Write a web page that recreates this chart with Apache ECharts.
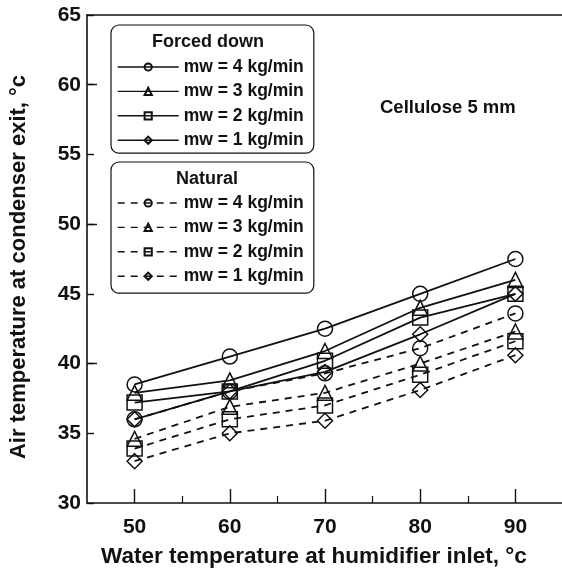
<!DOCTYPE html>
<html>
<head>
<meta charset="utf-8">
<script src="https://cdn.jsdelivr.net/npm/echarts@6/dist/echarts.min.js"></script>
<style>
  html, body { margin: 0; padding: 0; background: #fff; }
  #chart { width: 562px; height: 569px; }
</style>
</head>
<body>
<div id="chart"></div>
<script>
// Water inlet temperature (°C) at which each run was measured
const waterTemp = [50, 60, 70, 80, 90];

// Air temperature at condenser exit (°C), forced-down draft
const forcedMw4 = [38.5, 40.5, 42.5, 45.0, 47.5];
const forcedMw3 = [37.9, 38.8, 40.9, 44.0, 46.0];
const forcedMw2 = [37.2, 38.0, 40.2, 43.3, 45.0];
const forcedMw1 = [36.0, 38.0, 39.4, 42.1, 45.0];

// Air temperature at condenser exit (°C), natural draft
const naturalMw4 = [36.0, 38.0, 39.3, 41.1, 43.6];
const naturalMw3 = [34.6, 36.9, 37.9, 40.0, 42.3];
const naturalMw2 = [33.9, 36.0, 37.0, 39.2, 41.6];
const naturalMw1 = [33.0, 35.0, 35.9, 38.1, 40.6];

// Axis ticks
const xLabelTicks = [50, 60, 70, 80, 90];
const xMinorTicks = [55, 65, 75, 85];
const yMajorTicks = [40, 50, 60];

const FONT = '"Liberation Sans", Arial, Helvetica, sans-serif';
const INK = '#111';

const flowLabels = ['mw = 4 kg/min', 'mw = 3 kg/min', 'mw = 2 kg/min', 'mw = 1 kg/min'];
const symbols = ['circle', 'triangle', 'rect', 'diamond'];

function pairs(values) {
  return waterTemp.map((x, i) => [x, values[i]]);
}

function makeSeries(label, group, values, symbol, dashed) {
  return {
    name: label + ' (' + group + ')',
    type: 'line',
    data: pairs(values),
    xAxisIndex: 0,
    yAxisIndex: 0,
    symbol: symbol,
    symbolSize: 15,
    showSymbol: true,
    animation: false,
    lineStyle: { color: INK, width: 1.8, type: dashed ? [7, 6] : 'solid' },
    itemStyle: { color: 'rgba(0,0,0,0)', borderColor: INK, borderWidth: 1.5 },
    emphasis: { disabled: true }
  };
}

const forcedSets = [forcedMw4, forcedMw3, forcedMw2, forcedMw1];
const naturalSets = [naturalMw4, naturalMw3, naturalMw2, naturalMw1];

const series = [];
forcedSets.forEach((vals, i) => series.push(makeSeries(flowLabels[i], 'forced down', vals, symbols[i], false)));
naturalSets.forEach((vals, i) => series.push(makeSeries(flowLabels[i], 'natural', vals, symbols[i], true)));

const legendBase = {
  orient: 'vertical',
  left: 111,
  itemWidth: 61,
  itemHeight: 9,
  itemGap: 6.4,
  selectedMode: false,
  borderColor: INK,
  borderWidth: 1.2,
  borderRadius: 8,
  lineStyle: { width: 1.4 },
  textStyle: { fontFamily: FONT, fontSize: 17.5, fontWeight: 'bold', color: INK, lineHeight: 18 },
  formatter: name => name.replace(/ \(.*\)$/, '')
};

const chart = echarts.init(document.getElementById('chart'), null, { renderer: 'canvas' });

chart.setOption({
  backgroundColor: '#fff',
  animation: false,
  grid: { left: 87, top: 15, width: 476, height: 488, containLabel: false, outerBoundsMode: 'none' },
  xAxis: [
    {
      type: 'value', position: 'bottom', min: 45, max: 95,
      name: 'Water temperature at humidifier inlet, °c',
      nameLocation: 'middle', nameGap: 42,
      nameTextStyle: { fontFamily: FONT, fontSize: 22.5, fontWeight: 'bold', color: INK, padding: [0, 22, 0, 0] },
      axisLine: { show: true, lineStyle: { color: INK, width: 1.6 } },
      axisTick: { show: true, inside: true, length: 14, customValues: xLabelTicks, lineStyle: { color: INK, width: 1.4 } },
      axisLabel: { show: true, customValues: xLabelTicks, margin: 14, fontFamily: FONT, fontSize: 21, fontWeight: 'bold', color: INK },
      splitLine: { show: false }
    },
    {
      type: 'value', position: 'bottom', min: 45, max: 95,
      axisLine: { show: false },
      axisTick: { show: true, inside: true, length: 7, customValues: xMinorTicks, lineStyle: { color: INK, width: 1.2 } },
      axisLabel: { show: false },
      splitLine: { show: false }
    },
    {
      type: 'value', position: 'top', min: 45, max: 95,
      axisLine: { show: true, lineStyle: { color: INK, width: 1.6 } },
      axisTick: { show: false },
      axisLabel: { show: false },
      splitLine: { show: false }
    }
  ],
  yAxis: [
    {
      type: 'value', position: 'left', min: 30, max: 65, interval: 5,
      name: 'Air temperature at condenser exit, °c',
      nameLocation: 'middle', nameGap: 57,
      nameTextStyle: { fontFamily: FONT, fontSize: 22, fontWeight: 'bold', color: INK, padding: [0, 16, 0, 0] },
      axisLine: { show: true, lineStyle: { color: INK, width: 1.6 } },
      axisTick: { show: true, inside: true, length: 7, lineStyle: { color: INK, width: 1.4 } },
      axisLabel: { show: true, margin: 6, fontFamily: FONT, fontSize: 21, fontWeight: 'bold', color: INK },
      splitLine: { show: false }
    },
    {
      type: 'value', position: 'left', min: 30, max: 65,
      axisLine: { show: false },
      axisTick: { show: true, inside: true, length: 10, customValues: yMajorTicks, lineStyle: { color: INK, width: 1.4 } },
      axisLabel: { show: false },
      splitLine: { show: false }
    }
  ],
  legend: [
    Object.assign({}, legendBase, {
      top: 25,
      padding: [33, 10, 4, 6],
      data: flowLabels.map(l => l + ' (forced down)')
    }),
    Object.assign({}, legendBase, {
      top: 162,
      padding: [32, 10, 8, 6],
      data: flowLabels.map(l => l + ' (natural)')
    })
  ],
  graphic: [
    { type: 'text', left: 152, top: 33, style: { text: 'Forced down', font: 'bold 18px ' + FONT, fill: INK } },
    { type: 'text', left: 176, top: 170, style: { text: 'Natural', font: 'bold 18px ' + FONT, fill: INK } },
    { type: 'text', left: 380, top: 98, style: { text: 'Cellulose 5 mm', font: 'bold 18.5px ' + FONT, fill: INK } }
  ],
  series: series
});
</script>
</body>
</html>
